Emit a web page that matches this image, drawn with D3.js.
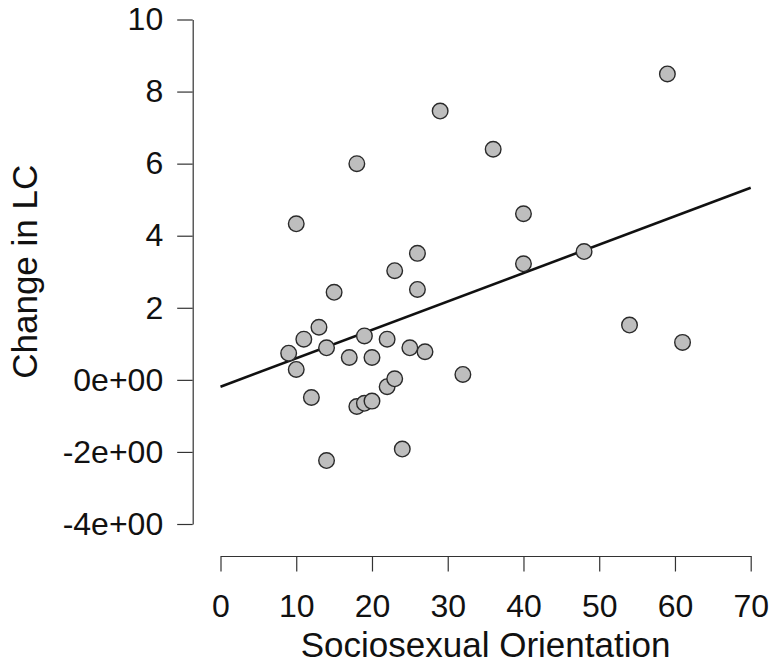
<!DOCTYPE html>
<html>
<head>
<meta charset="utf-8">
<script src="https://cdn.jsdelivr.net/npm/d3@7"></script>
<style>
  html, body { margin: 0; padding: 0; background: #fff; }
  svg { display: block; }
  text { font-family: "Liberation Sans", Arial, Helvetica, sans-serif; }
</style>
</head>
<body>
<svg id="chart" width="770" height="663"></svg>
<script>
// sociosexual orientation score per participant
const soi = [59, 29, 36, 18, 10, 40, 26, 23, 40, 48, 15, 26, 54, 61, 13, 11, 19,
  22, 9, 14, 17, 20, 25, 27, 10, 32, 22, 23, 12, 18, 19, 20, 24, 14];
// change in LC for the same participants
const changeLC = [8.49, 7.46, 6.4, 6.0, 4.33, 4.61, 3.51, 3.03, 3.22, 3.56, 2.43, 2.51,
  1.52, 1.04, 1.46, 1.13, 1.22, 1.13, 0.74, 0.89, 0.62, 0.62, 0.89, 0.78, 0.29, 0.15,
  -0.19, 0.03, -0.49, -0.74, -0.65, -0.59, -1.92, -2.24];

// fitted regression line (ends)
const fitX = [0, 70];
const fitY = [-0.19, 5.33];

const xTicks = [0, 10, 20, 30, 40, 50, 60, 70];
const yTicks = [-4, -2, 0, 2, 4, 6, 8, 10];
const yTickLabels = ["-4e+00", "-2e+00", "0e+00", "2", "4", "6", "8", "10"];

const svg = d3.select("#chart");
const tickFont = 32;
const titleFont = 35;

const x = d3.scaleLinear().domain([0, 70]).range([220.5, 750.7]);
const y = d3.scaleLinear().domain([-4, 10]).range([524, 19.5]);

// y axis, detached to the left like base R
const yAxis = svg.append("g")
  .attr("transform", "translate(192.7,0)")
  .call(d3.axisLeft(y)
    .tickValues(yTicks)
    .tickFormat((d, i) => yTickLabels[i])
    .tickSize(15.5)
    .tickSizeOuter(0)
    .tickPadding(14));

// x axis below the plot
const xAxis = svg.append("g")
  .attr("transform", "translate(0,556)")
  .call(d3.axisBottom(x)
    .tickValues(xTicks)
    .tickSize(15.5)
    .tickSizeOuter(0)
    .tickPadding(23));

[yAxis, xAxis].forEach(a => {
  a.select(".domain").attr("stroke", "#333").attr("stroke-width", 1.2);
  a.selectAll(".tick line").attr("stroke", "#333").attr("stroke-width", 1.2);
  a.selectAll(".tick text")
    .attr("fill", "#111")
    .style("font-size", tickFont + "px")
    .style("font-family", '"Liberation Sans", Arial, Helvetica, sans-serif');
});

// axis titles
svg.append("text")
  .attr("x", (x(0) + x(70)) / 2)
  .attr("y", 657)
  .attr("text-anchor", "middle")
  .attr("fill", "#111")
  .style("font-size", titleFont + "px")
  .text("Sociosexual Orientation");

svg.append("text")
  .attr("transform", `translate(37,${(y(-4) + y(10)) / 2}) rotate(-90)`)
  .attr("text-anchor", "middle")
  .attr("fill", "#111")
  .style("font-size", titleFont + "px")
  .text("Change in LC");

// regression line
const line = d3.line()
  .x(d => x(d[0]))
  .y(d => y(d[1]));

svg.append("path")
  .datum(d3.zip(fitX, fitY))
  .attr("d", line)
  .attr("fill", "none")
  .attr("stroke", "#111")
  .attr("stroke-width", 2.6);

// points
svg.append("g")
  .selectAll("circle")
  .data(d3.zip(soi, changeLC))
  .join("circle")
  .attr("cx", d => x(d[0]))
  .attr("cy", d => y(d[1]))
  .attr("r", 7.8)
  .attr("fill", "#bebebe")
  .attr("stroke", "#2a2a2a")
  .attr("stroke-width", 1.4);
</script>
</body>
</html>
